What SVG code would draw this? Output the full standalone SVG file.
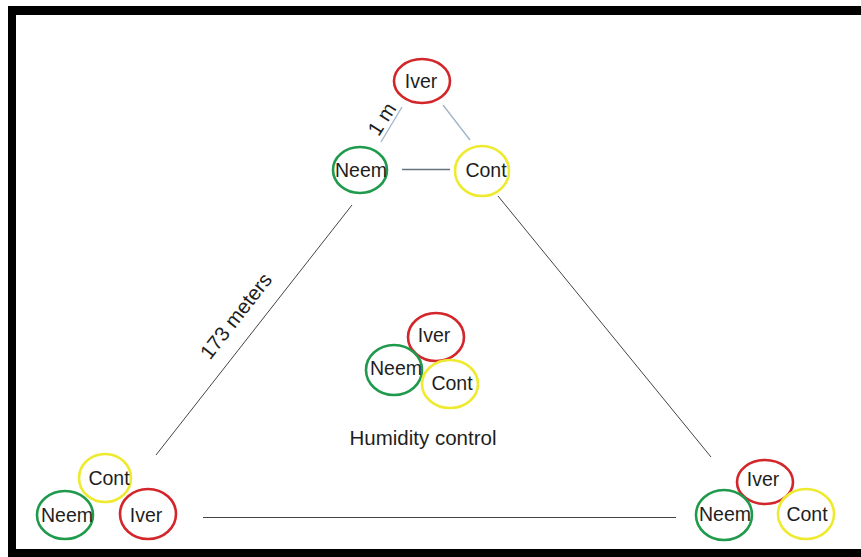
<svg xmlns="http://www.w3.org/2000/svg" width="861" height="557" viewBox="0 0 861 557">
<style>
text{font-family:"Liberation Sans",Arial,sans-serif;font-size:19.5px;fill:#1e1e1e;text-anchor:middle}
.big{font-size:20.5px}
.r{fill:none;stroke:#d3262b;stroke-width:2.6}
.g{fill:none;stroke:#1f9a4c;stroke-width:2.6}
.y{fill:none;stroke:#eeea30;stroke-width:2.6}
.lb{stroke:#9fb4c6;stroke-width:1.3;fill:none}
.ld{stroke:#66737c;stroke-width:1.3;fill:none}
.lg{stroke:#444;stroke-width:1;fill:none}
</style>
<rect width="861" height="557" fill="#fff"/>
<g id="frame" fill="#000">
<rect x="8" y="6" width="853" height="9"/>
<rect x="8" y="6" width="8" height="551"/>
<rect x="8" y="549" width="853" height="8"/>
</g>
<g id="connectors">
<line class="lb" x1="381" y1="142" x2="402" y2="107"/>
<line class="lb" x1="443" y1="105" x2="470" y2="140"/>
<line class="ld" x1="402" y1="169.5" x2="450" y2="169.5"/>
<line class="lg" x1="352" y1="205" x2="156" y2="455"/>
<line class="lg" x1="498" y1="196" x2="711" y2="457"/>
<line class="lg" x1="203" y1="517.5" x2="676" y2="517.5"/>
</g>
<g id="label-1m"><text class="big" transform="translate(382,119) rotate(-57)" y="7">1 m</text></g>
<g id="label-173"><text class="big" transform="translate(236,316) rotate(-52)" y="7">173 meters</text></g>
<g id="top-iver"><ellipse class="r" cx="422" cy="81" rx="28" ry="22"/><text x="421" y="88">Iver</text></g>
<g id="top-neem"><ellipse class="g" cx="360" cy="170" rx="27" ry="23"/><text x="361" y="177">Neem</text></g>
<g id="top-cont"><ellipse class="y" cx="482" cy="171" rx="27" ry="25"/><text x="486" y="177">Cont</text></g>
<g id="c-iver"><ellipse class="r" cx="436" cy="337" rx="28" ry="24"/><text x="434" y="342">Iver</text></g>
<g id="c-neem"><ellipse class="g" cx="394" cy="370" rx="28" ry="25"/><text x="396" y="375">Neem</text></g>
<g id="c-cont"><ellipse class="y" cx="450" cy="384" rx="28" ry="24"/><text x="452" y="390">Cont</text></g>
<g id="humidity"><text class="big" x="423" y="445">Humidity control</text></g>
<g id="bl-cont"><ellipse class="y" cx="105" cy="478" rx="26" ry="24"/><text x="109" y="485">Cont</text></g>
<g id="bl-neem"><ellipse class="g" cx="65" cy="515" rx="28" ry="24"/><text x="67" y="522">Neem</text></g>
<g id="bl-iver"><ellipse class="r" cx="148" cy="514" rx="28" ry="25"/><text x="146" y="522">Iver</text></g>
<g id="br-iver"><ellipse class="r" cx="765" cy="482" rx="28" ry="22"/><text x="763" y="486">Iver</text></g>
<g id="br-neem"><ellipse class="g" cx="724" cy="515" rx="28" ry="25"/><text x="725" y="521">Neem</text></g>
<g id="br-cont"><ellipse class="y" cx="806" cy="514" rx="28" ry="25"/><text x="807" y="521">Cont</text></g>
</svg>
